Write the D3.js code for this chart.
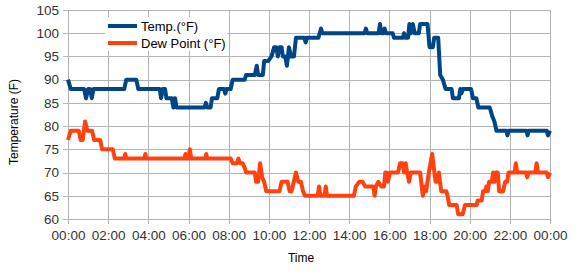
<!DOCTYPE html>
<html>
<head>
<meta charset="utf-8">
<script src="https://cdn.jsdelivr.net/npm/d3@7"></script>
<style>
    body { margin: 0; background: #fff; }
    svg { font-family: "Liberation Sans", Arial, sans-serif; }
    .grid line { stroke: #b3b3b3; stroke-width: 1; shape-rendering: crispEdges; }
    .grid text { fill: #333; font-size: 13.5px; }
    .line { fill: none; stroke-width: 4; stroke-linejoin: round; }
</style>
</head>
<body>
<div id="chart-area"></div>
<script>

// readings, [time, °F]
let tempData = [
    ["00:00", 90], ["00:08", 88], ["00:48", 88], ["00:54", 86], ["01:00", 88], ["01:06", 88],
    ["01:11", 86], ["01:16", 88], ["02:48", 88], ["02:54", 90], ["03:24", 90], ["03:30", 88],
    ["04:34", 88], ["04:38", 86], ["04:43", 88], ["04:50", 88], ["04:54", 86], ["05:10", 86],
    ["05:15", 84], ["05:18", 86], ["05:20", 86], ["05:24", 84], ["06:48", 84], ["06:52", 85],
    ["06:56", 84], ["07:06", 84], ["07:10", 86], ["07:26", 86], ["07:31", 88], ["07:46", 88],
    ["07:50", 87], ["07:54", 88], ["08:06", 88], ["08:12", 90], ["08:48", 90], ["08:52", 91],
    ["09:18", 91], ["09:24", 93], ["09:28", 91], ["09:42", 91], ["09:46", 94], ["09:58", 94],
    ["10:08", 95], ["10:16", 97], ["10:22", 97], ["10:27", 95], ["10:32", 97], ["10:38", 97],
    ["10:42", 95], ["10:49", 95], ["10:54", 93], ["11:00", 97], ["11:06", 95], ["11:15", 95],
    ["11:21", 99], ["11:46", 99], ["11:50", 98], ["11:54", 99], ["12:28", 99], ["12:32", 100],
    ["12:36", 101], ["12:40", 100], ["14:46", 100], ["14:50", 101], ["14:54", 100], ["15:28", 100],
    ["15:32", 102], ["15:36", 100], ["15:42", 100], ["15:46", 101], ["15:50", 100], ["16:10", 100],
    ["16:14", 99], ["16:40", 99], ["16:44", 100], ["16:48", 99], ["16:56", 99], ["17:00", 102],
    ["17:05", 100], ["17:10", 102], ["17:16", 100], ["17:28", 100], ["17:32", 102], ["17:54", 102],
    ["18:00", 97], ["18:10", 97], ["18:14", 99], ["18:26", 99], ["18:32", 91], ["18:40", 90],
    ["18:48", 88], ["19:06", 88], ["19:10", 86], ["19:28", 86], ["19:32", 88], ["19:35", 87],
    ["19:40", 88], ["20:04", 88], ["20:10", 86], ["20:20", 86], ["20:26", 84], ["21:00", 84],
    ["21:08", 82], ["21:14", 81], ["21:20", 79], ["21:50", 79], ["21:53", 78], ["21:56", 79],
    ["22:50", 79], ["22:53", 78], ["22:56", 79], ["23:50", 79], ["23:54", 78], ["24:00", 79]
];

let dewData = [
    ["00:00", 77], ["00:08", 79], ["00:32", 79], ["00:38", 77], ["00:44", 77], ["00:51", 81],
    ["00:58", 79], ["01:12", 79], ["01:18", 77], ["01:36", 77], ["01:42", 75], ["02:14", 75],
    ["02:20", 73], ["02:48", 73], ["02:51", 74], ["02:54", 73], ["03:48", 73], ["03:51", 74],
    ["03:54", 73], ["05:48", 73], ["05:51", 74], ["05:54", 73], ["06:00", 73], ["06:04", 75],
    ["06:08", 73], ["06:50", 73], ["06:53", 74], ["06:56", 73], ["08:06", 73], ["08:12", 72],
    ["08:24", 72], ["08:29", 73], ["08:34", 72], ["08:42", 72], ["08:48", 71], ["08:52", 70],
    ["09:18", 70], ["09:22", 68], ["09:28", 68], ["09:34", 72], ["09:40", 69], ["09:46", 68],
    ["09:52", 66], ["10:32", 66], ["10:38", 68], ["10:56", 68], ["11:02", 66], ["11:08", 66],
    ["11:21", 70], ["11:28", 68], ["11:36", 68], ["11:42", 66], ["11:48", 65], ["12:26", 65],
    ["12:30", 67], ["12:34", 65], ["12:46", 65], ["12:50", 67], ["12:54", 65], ["14:14", 65],
    ["14:20", 67], ["14:30", 68], ["14:40", 68], ["14:48", 67], ["15:12", 67], ["15:16", 65],
    ["15:20", 67], ["15:27", 68], ["15:36", 67], ["15:44", 67], ["15:48", 70], ["15:52", 70],
    ["15:56", 68], ["16:02", 70], ["16:26", 70], ["16:32", 72], ["16:40", 72], ["16:44", 70],
    ["16:49", 72], ["16:53", 70], ["16:59", 68], ["17:04", 70], ["17:32", 70], ["17:40", 65],
    ["17:44", 67], ["17:50", 66], ["17:58", 70], ["18:08", 74], ["18:18", 68], ["18:22", 68],
    ["18:28", 70], ["18:35", 66], ["18:50", 66], ["18:54", 65], ["18:59", 63], ["19:21", 63],
    ["19:26", 61], ["19:39", 61], ["19:46", 63], ["20:21", 63], ["20:24", 64], ["20:36", 64],
    ["20:40", 66], ["20:46", 66], ["20:50", 67], ["20:54", 66], ["20:58", 68], ["21:06", 68],
    ["21:10", 70], ["21:14", 68], ["21:18", 70], ["21:24", 70], ["21:28", 66], ["21:40", 66],
    ["21:46", 68], ["21:52", 68], ["21:56", 70], ["22:14", 70], ["22:18", 72], ["22:22", 70],
    ["22:48", 70], ["22:52", 69], ["22:56", 70], ["23:16", 70], ["23:20", 72], ["23:24", 70],
    ["23:50", 70], ["23:54", 69], ["24:00", 70]
];

let seriesNames = ["Temp.(°F)", "Dew Point (°F)"];
let seriesColors = ["#004586", "#ff420e"];
let yTicks = [60, 65, 70, 75, 80, 85, 90, 95, 100, 105];
let dayStart = "00:00", dayEnd = "24:00";


function toDate(s) {
    let [h, m] = s.split(":").map(Number);
    return new Date(2020, 0, 1, h, m);
}


class TempChart {

    constructor(_parentElement, _series) {
        this.parentElement = _parentElement;
        this.series = _series;
        this.initVis();
    }

    initVis() {
        let vis = this;

        vis.margin = { top: 10, right: 32, bottom: 56, left: 68 };
        vis.width = 582 - vis.margin.left - vis.margin.right;
        vis.height = 275 - vis.margin.top - vis.margin.bottom;

        vis.svg = d3.select("#" + vis.parentElement).append("svg")
            .attr("width", 582)
            .attr("height", 275)
            .append("g")
            .attr("transform", "translate(" + vis.margin.left + "," + vis.margin.top + ")");

        vis.x = d3.scaleTime()
            .domain([toDate(dayStart), toDate(dayEnd)])
            .range([0, vis.width]);

        vis.y = d3.scaleLinear()
            .domain([60, 105])
            .range([vis.height, 0]);

        // gridlines stick out 5px past the plot, like tick marks
        vis.xAxis = d3.axisBottom(vis.x)
            .ticks(d3.timeHour.every(2))
            .tickFormat(d3.timeFormat("%H:%M"))
            .tickSize(-(vis.height + 5))
            .tickPadding(6);

        vis.yAxis = d3.axisLeft(vis.y)
            .tickValues(yTicks)
            .tickSize(-(vis.width + 5))
            .tickPadding(4);

        vis.svg.append("g")
            .attr("class", "x-axis grid")
            .attr("transform", "translate(0," + (vis.height + 5) + ")");

        vis.svg.append("g")
            .attr("class", "y-axis grid")
            .attr("transform", "translate(-5,0)");

        // axis titles
        vis.svg.append("text")
            .attr("transform", "translate(" + (18 - vis.margin.left) + "," + (122 - vis.margin.top) + ") rotate(-90)")
            .attr("text-anchor", "middle")
            .style("font-size", "12px")
            .text("Temperature (F)");

        vis.svg.append("text")
            .attr("x", 301 - vis.margin.left)
            .attr("y", 262 - vis.margin.top)
            .attr("text-anchor", "middle")
            .style("font-size", "12px")
            .text("Time");

        vis.line = d3.line()
            .x(d => vis.x(d.date))
            .y(d => vis.y(d.value));

        vis.wrangleData();
    }

    wrangleData() {
        let vis = this;

        vis.displayData = vis.series.map(s => ({
            name: s.name,
            color: s.color,
            values: s.data.map(d => ({ date: toDate(d[0]), value: d[1] }))
        }));

        vis.updateVis();
    }

    updateVis() {
        let vis = this;

        vis.svg.select(".x-axis").call(vis.xAxis).select(".domain").remove();
        vis.svg.select(".y-axis").call(vis.yAxis).select(".domain").remove();

        vis.svg.selectAll(".line")
            .data(vis.displayData)
            .enter().append("path")
            .attr("class", "line")
            .attr("stroke", d => d.color)
            .attr("d", d => vis.line(d.values));

        // legend
        let legend = vis.svg.append("g")
            .attr("transform", "translate(" + (108 - vis.margin.left) + "," + (26 - vis.margin.top) + ")");

        legend.append("rect")
            .attr("x", -3).attr("y", -9)
            .attr("width", 122).attr("height", 34)
            .attr("fill", "#fff");

        let items = legend.selectAll(".legend-item")
            .data(vis.displayData)
            .enter().append("g")
            .attr("class", "legend-item")
            .attr("transform", (d, i) => "translate(0," + i * 17 + ")");

        items.append("line")
            .attr("x1", 0).attr("x2", 29)
            .attr("stroke", d => d.color)
            .attr("stroke-width", 4);

        items.append("text")
            .attr("x", 33)
            .attr("y", 4.6)
            .style("font-size", "13px")
            .text(d => d.name);
    }
}

let chart = new TempChart("chart-area", [
    { name: seriesNames[0], color: seriesColors[0], data: tempData },
    { name: seriesNames[1], color: seriesColors[1], data: dewData }
]);

</script>
</body>
</html>
